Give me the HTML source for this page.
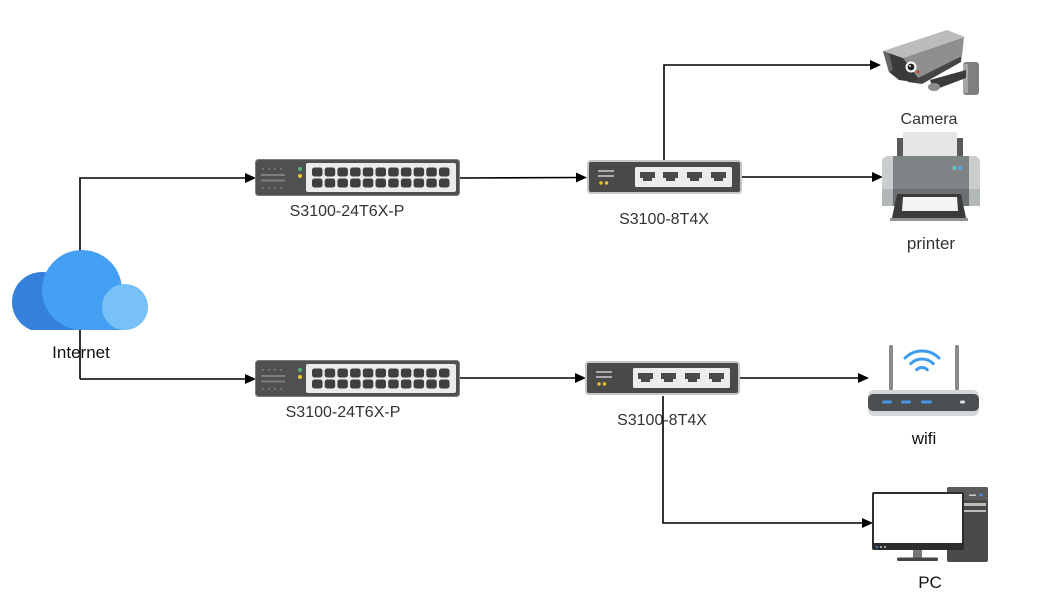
<!DOCTYPE html>
<html><head><meta charset="utf-8"><style>
html,body{margin:0;padding:0;background:#fff;}
svg{display:block;}
text{font-family:"Liberation Sans",sans-serif;}
</style></head><body>
<svg width="1055" height="615" viewBox="0 0 1055 615" xmlns="http://www.w3.org/2000/svg">
<defs>
<g id="bigsw">
  <rect x="255.5" y="159.5" width="204" height="36" rx="3" fill="#505050" stroke="#7c7c7c" stroke-width="1"/>
  <g fill="#8a8a8a">
    <circle cx="263" cy="169" r="0.9"/><circle cx="269" cy="169" r="0.9"/><circle cx="275" cy="169" r="0.9"/><circle cx="281" cy="169" r="0.9"/>
    <circle cx="263" cy="188" r="0.9"/><circle cx="269" cy="188" r="0.9"/><circle cx="275" cy="188" r="0.9"/><circle cx="281" cy="188" r="0.9"/>
  </g>
  <line x1="261" y1="175" x2="285" y2="175" stroke="#7e7e7e" stroke-width="2"/>
  <line x1="261" y1="180.5" x2="285" y2="180.5" stroke="#7e7e7e" stroke-width="2"/>
  <circle cx="300" cy="169" r="2" fill="#4bb57a"/>
  <circle cx="300" cy="176" r="2" fill="#e8c52e"/>
  <rect x="306" y="163" width="150" height="29" rx="2" fill="#ebebeb"/>
  <g fill="#3f3f3f">
    <rect x="312" y="167.5" width="10.5" height="9" rx="2.5"/><rect x="324.7" y="167.5" width="10.5" height="9" rx="2.5"/><rect x="337.4" y="167.5" width="10.5" height="9" rx="2.5"/><rect x="350.1" y="167.5" width="10.5" height="9" rx="2.5"/><rect x="362.8" y="167.5" width="10.5" height="9" rx="2.5"/><rect x="375.5" y="167.5" width="10.5" height="9" rx="2.5"/><rect x="388.2" y="167.5" width="10.5" height="9" rx="2.5"/><rect x="400.9" y="167.5" width="10.5" height="9" rx="2.5"/><rect x="413.6" y="167.5" width="10.5" height="9" rx="2.5"/><rect x="426.3" y="167.5" width="10.5" height="9" rx="2.5"/><rect x="439" y="167.5" width="10.5" height="9" rx="2.5"/>
    <rect x="312" y="178.5" width="10.5" height="9" rx="2.5"/><rect x="324.7" y="178.5" width="10.5" height="9" rx="2.5"/><rect x="337.4" y="178.5" width="10.5" height="9" rx="2.5"/><rect x="350.1" y="178.5" width="10.5" height="9" rx="2.5"/><rect x="362.8" y="178.5" width="10.5" height="9" rx="2.5"/><rect x="375.5" y="178.5" width="10.5" height="9" rx="2.5"/><rect x="388.2" y="178.5" width="10.5" height="9" rx="2.5"/><rect x="400.9" y="178.5" width="10.5" height="9" rx="2.5"/><rect x="413.6" y="178.5" width="10.5" height="9" rx="2.5"/><rect x="426.3" y="178.5" width="10.5" height="9" rx="2.5"/><rect x="439" y="178.5" width="10.5" height="9" rx="2.5"/>
  </g>
</g>
<g id="smsw">
  <rect x="588" y="161" width="153" height="32" rx="3" fill="#4a4a4a" stroke="#c6c6c6" stroke-width="2"/>
  <line x1="598" y1="171" x2="614" y2="171" stroke="#ababab" stroke-width="2"/>
  <line x1="598" y1="176" x2="614" y2="176" stroke="#ababab" stroke-width="2"/>
  <circle cx="601" cy="183" r="1.7" fill="#e8c52e"/>
  <circle cx="606.5" cy="183" r="1.7" fill="#e8c52e"/>
  <rect x="635" y="167" width="97" height="20" rx="1.5" fill="#ececec"/>
  <g fill="#4a4a4a">
    <path d="M640,172 h15 v6 h-3 v3 h-9 v-3 h-3 z"/>
    <path d="M663,172 h15 v6 h-3 v3 h-9 v-3 h-3 z"/>
    <path d="M687,172 h15 v6 h-3 v3 h-9 v-3 h-3 z"/>
    <path d="M711,172 h15 v6 h-3 v3 h-9 v-3 h-3 z"/>
  </g>
</g>
<clipPath id="cloudclip"><rect x="0" y="240" width="160" height="90"/></clipPath>
</defs>

<!-- connectors -->
<g stroke="#000" stroke-width="1.6" fill="none">
  <path d="M80,379 V178 H247"/>
  <path d="M80,379 H247"/>
  <path d="M459,178 L578,177.5"/>
  <path d="M664,160 V65 H872"/>
  <path d="M742,177 H874"/>
  <path d="M459,378 H577"/>
  <path d="M739,378 H860"/>
  <path d="M663,396 V523 H864"/>
</g>
<g fill="#000">
  <polygon points="256,178 245,173 245,183"/>
  <polygon points="256,379 245,374 245,384"/>
  <polygon points="587,177.5 576,172.5 576,182.5"/>
  <polygon points="881,65 870,60 870,70"/>
  <polygon points="883,177 872,172 872,182"/>
  <polygon points="586,378 575,373 575,383"/>
  <polygon points="869,378 858,373 858,383"/>
  <polygon points="873,523 862,518 862,528"/>
</g>

<!-- cloud -->
<g clip-path="url(#cloudclip)">
  <circle cx="42" cy="302" r="30" fill="#3580d8"/>
  <rect x="42" y="300" width="42" height="30" fill="#3580d8"/>
  <rect x="82" y="300" width="44" height="30" fill="#44a0f2"/>
  <circle cx="82" cy="290" r="40" fill="#44a0f2"/>
  <circle cx="125" cy="307" r="23" fill="#78c0f8"/>
</g>
<text x="81" y="358" font-size="17" fill="#111" text-anchor="middle">Internet</text>

<!-- switches -->
<use href="#bigsw"/>
<use href="#bigsw" transform="translate(0,201)"/>
<use href="#smsw"/>
<use href="#smsw" transform="translate(-2,201)"/>

<text x="347" y="216" font-size="16" fill="#333" text-anchor="middle">S3100-24T6X-P</text>
<text x="664" y="224" font-size="16" fill="#333" text-anchor="middle">S3100-8T4X</text>
<text x="343" y="417" font-size="16" fill="#333" text-anchor="middle">S3100-24T6X-P</text>
<text x="662" y="425" font-size="16" fill="#333" text-anchor="middle">S3100-8T4X</text>

<!-- camera -->
<g>
  <rect x="963" y="62" width="16" height="33" rx="3" fill="#7f7f7f"/>
  <rect x="963" y="64" width="5" height="29" fill="#a6a6a6"/>
  <polygon points="930,80 966,70 966,78 934,90" fill="#3b3b3b"/>
  <ellipse cx="934" cy="87" rx="6" ry="4" fill="#8c8c8c"/>
  <!-- underside -->
  <polygon points="905,62 963,40 961,62 922,84 908,82" fill="#454545"/>
  <!-- side face -->
  <polygon points="903,58 964,37 962,56 918,78" fill="#8f8f8f"/>
  <!-- top face -->
  <polygon points="883,51 947,30 965,37 903,58" fill="#bcbcbc"/>
  <!-- front hood -->
  <polygon points="883,51 903,58 919,79 913,82 899,80 889,72" fill="#3a3a3a"/>
  <polygon points="883,51 889,53 893,70 889,72" fill="#666"/>
  <circle cx="911" cy="67" r="5.5" fill="#fff"/>
  <circle cx="911" cy="67" r="3.4" fill="#222"/>
  <circle cx="910" cy="66" r="1" fill="#ddd"/>
  <circle cx="918" cy="72" r="1.5" fill="#d33"/>
</g>
<text x="929" y="124" font-size="16" fill="#333" text-anchor="middle">Camera</text>

<!-- printer -->
<g>
  <rect x="897" y="138" width="66" height="20" fill="#5a5a5a"/>
  <rect x="903" y="132" width="54" height="26" fill="#e6e6e6"/>
  <rect x="882" y="156" width="98" height="50" rx="6" fill="#c9cdcd"/>
  <rect x="893" y="156" width="76" height="50" fill="#7e8485"/>
  <rect x="882" y="189" width="98" height="17" fill="#b2b7b7"/>
  <rect x="893" y="189" width="76" height="17" fill="#6b7072"/>
  <circle cx="954.5" cy="168" r="2" fill="#5fc8c8"/>
  <circle cx="960" cy="168" r="2" fill="#4ea6f0"/>
  <polygon points="897,194 961,194 966,218 892,218" fill="#3b3b3b"/>
  <polygon points="903,197 957,197 958,211 902,211" fill="#f4f4f4"/>
  <rect x="890" y="218" width="78" height="3" fill="#8d9393"/>
</g>
<text x="931" y="249" font-size="17" fill="#333" text-anchor="middle">printer</text>

<!-- wifi router -->
<g>
  <rect x="889" y="345" width="4" height="46" rx="1.5" fill="#8a8a8a"/>
  <rect x="955" y="345" width="4" height="46" rx="1.5" fill="#8a8a8a"/>
  <rect x="868" y="390" width="111" height="26" rx="6" fill="#d3d7d8"/>
  <rect x="868" y="394" width="111" height="17" rx="5" fill="#4b4f52"/>
  <rect x="882" y="400.5" width="10" height="3" rx="1.5" fill="#4a93e6"/>
  <rect x="901" y="400.5" width="10" height="3" rx="1.5" fill="#4a93e6"/>
  <rect x="921" y="400.5" width="11" height="3" rx="1.5" fill="#4a93e6"/>
  <rect x="960" y="400.5" width="5" height="3" rx="1.5" fill="#e2e2e2"/>
  <g fill="none" stroke="#3b9cf0" stroke-width="3" stroke-linecap="round">
    <path d="M905,358 A24,24 0 0 1 939,358"/>
    <path d="M910.7,363.7 A16,16 0 0 1 933.3,363.7"/>
    <path d="M916.7,369.7 A7.5,7.5 0 0 1 927.3,369.7"/>
  </g>
</g>
<text x="924" y="444" font-size="17" fill="#111" text-anchor="middle">wifi</text>

<!-- PC -->
<g>
  <rect x="947" y="487" width="41" height="75" rx="2" fill="#4a4a4a"/>
  <rect x="947" y="487" width="41" height="13" rx="2" fill="#5a5a5a"/>
  <rect x="949" y="503" width="37" height="3" fill="#bdbdbd"/>
  <rect x="949" y="510" width="37" height="2" fill="#bdbdbd"/>
  <rect x="969" y="494.5" width="7" height="1.5" fill="#ccc"/>
  <circle cx="981" cy="495" r="1.6" fill="#4a90e2"/>
  <rect x="872" y="492" width="92" height="58" rx="2" fill="#2d2d2d"/>
  <rect x="874" y="494" width="88" height="49" fill="#fff"/>
  <circle cx="877" cy="547" r="1" fill="#4a90e2"/>
  <circle cx="881" cy="547" r="1" fill="#ccc"/>
  <circle cx="885" cy="547" r="1" fill="#ccc"/>
  <rect x="913" y="550" width="9" height="8" fill="#777"/>
  <rect x="897" y="557.5" width="41" height="3.5" rx="1.5" fill="#444"/>
</g>
<text x="930" y="588" font-size="17" fill="#111" text-anchor="middle">PC</text>
</svg>
</body></html>
